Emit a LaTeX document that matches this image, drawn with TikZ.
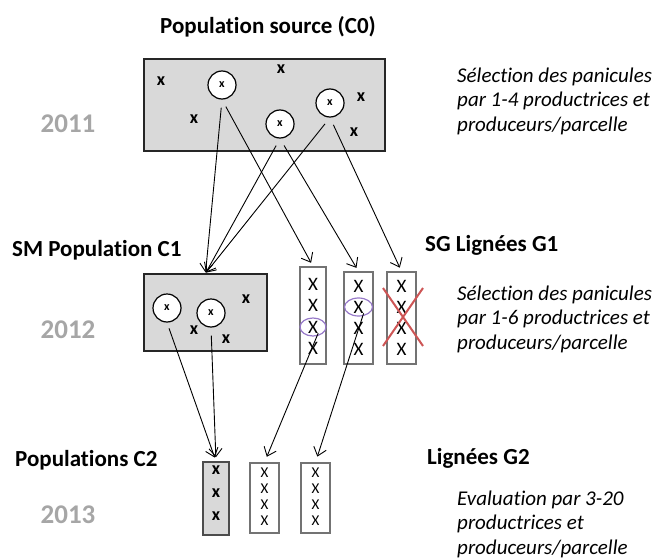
\documentclass[tikz,border=0pt]{standalone}
\usepackage{fontspec}
\setmainfont{Carlito}[Ligatures=NoCommon]
\usepackage{tikz}
\usetikzlibrary{arrows.meta,positioning,fit}
\definecolor{boxgrey}{RGB}{217,217,217}
\definecolor{yeargrey}{RGB}{166,166,166}
\definecolor{selpurple}{RGB}{150,120,200}
\definecolor{rejectred}{RGB}{205,85,85}
\tikzset{
  popbox/.style={draw=black!85, fill=boxgrey, line width=1.2pt, inner sep=0pt},
  linebox/.style={draw=black!55, fill=white, line width=1.4pt, inner sep=0pt},
  plant/.style={circle, draw=black, fill=white, line width=1.2pt, minimum size=28pt, inner sep=0pt, font=\fontsize{12}{12}\selectfont\bfseries},
  bx/.style={inner sep=0pt, font=\fontsize{18}{18}\selectfont\bfseries},
  thinx/.style={inner sep=0pt, font=\fontsize{19}{19}\selectfont},
  smallx/.style={inner sep=0pt, font=\fontsize{15}{15}\selectfont},
  heading/.style={inner sep=0pt, font=\fontsize{23}{26}\selectfont\bfseries},
  year/.style={inner sep=0pt, text=yeargrey, font=\fontsize{27}{30}\selectfont\bfseries},
  note/.style={inner sep=0pt, align=left, font=\fontsize{21}{24.5}\selectfont\itshape},
  sel/.style={draw=selpurple, line width=1.2pt},
  reject/.style={draw=rejectred, line width=2pt},
  flow/.style={draw=black, line width=0.9pt, -{Straight Barb[length=8pt,width=13pt]}}
}
\begin{document}
\begin{tikzpicture}[x=1pt,y=-1pt]
\useasboundingbox (0,0) rectangle (655,559);

% titres et annees
\node[heading] (tC0) at (268,27) {Population source (C0)};
\node[heading, anchor=west] (tC1) at (12,250) {SM Population C1};
\node[heading, anchor=west] (tG1) at (425,245) {SG Lignées G1};
\node[heading, anchor=west] (tC2) at (15,460) {Populations C2};
\node[heading, anchor=west] (tG2) at (427,458) {Lignées G2};
\node[year] (y2011) at (68,124) {2011};
\node[year] (y2012) at (68,330) {2012};
\node[year] (y2013) at (68,515) {2013};

\node[note, anchor=west] (n1) at (457,101) {Sélection des panicules\\par 1-4 productrices et\\produceurs/parcelle};
\node[note, anchor=west] (n2) at (457,319) {Sélection des panicules\\par 1-6 productrices et\\produceurs/parcelle};
\node[note, anchor=west] (n3) at (457,524) {Evaluation par 3-20\\productrices et\\produceurs/parcelle};

% 2011 : population source
\node[popbox, minimum width=241pt, minimum height=92pt] (c0) at (264.5,105) {};
\foreach \px/\py [count=\i] in {161/81, 281/69, 194/119, 361/97, 354/132}
  \node[bx] (c0x\i) at (\px,\py) {x};
\node[plant] (c0a) at (222,85) {x};
\node[plant] (c0b) at (280,124) {x};
\node[plant] (c0c) at (330,103) {x};

% 2012 : SM C1 et lignees G1
\node[popbox, minimum width=123pt, minimum height=77pt] (c1) at (205.5,312.5) {};
\foreach \px/\py [count=\i] in {246/299, 194/330, 226/339}
  \node[bx] (c1x\i) at (\px,\py) {x};
\node[plant] (c1a) at (167,308) {x};
\node[plant] (c1b) at (211,313) {x};

\node[linebox, minimum width=26pt, minimum height=97pt] (g1a) at (313,315.5) {};
\node[linebox, minimum width=29pt, minimum height=92pt] (g1b) at (358.5,318) {};
\node[linebox, minimum width=29pt, minimum height=92pt] (g1c) at (401.5,318) {};
\foreach \py [count=\i] in {284,305.5,327,348.5}
  \node[thinx] (g1a-\i) at (313,\py) {X};
\foreach \py [count=\i] in {286,307,328,349} {
  \node[thinx] (g1b-\i) at (358.5,\py) {X};
  \node[thinx] (g1c-\i) at (401.5,\py) {X};
}
\draw[sel] (g1a-3) ellipse [x radius=13pt, y radius=9pt];
\draw[sel] (g1b-2) ellipse [x radius=14pt, y radius=9pt];
\draw[reject] (383,288) -- (423,346) (423,288) -- (383,346);

% 2013 : C2 et lignees G2
\node[popbox, draw=black!70, line width=1.4pt, minimum width=26pt, minimum height=73pt] (c2) at (216,498.5) {};
\foreach \py [count=\i] in {470,493,516}
  \node[bx] (c2x\i) at (216,\py) {x};
\node[linebox, minimum width=29pt, minimum height=70pt] (g2a) at (264.5,498) {};
\node[linebox, minimum width=29pt, minimum height=70pt] (g2b) at (315.5,498) {};
\foreach \py [count=\i] in {473,489,505,521} {
  \node[smallx] (g2a-\i) at (264.5,\py) {X};
  \node[smallx] (g2b-\i) at (315.5,\py) {X};
}

% fleches
\draw[flow, shorten <=8pt, shorten >=1pt] (c0a.south) -- (c1.north);
\draw[flow, shorten <=8pt, shorten >=1pt] (c0b.south) -- (c1.north);
\draw[flow, shorten <=8pt, shorten >=1pt] (c0c.south) -- (c1.north);
\draw[flow, shorten <=8pt, shorten >=4pt] (c0a.south) -- (g1a.north);
\draw[flow, shorten <=8pt, shorten >=4pt] (c0b.south) -- (g1b.north);
\draw[flow, shorten <=8pt, shorten >=4pt] (c0c.south) -- (g1c.north);
\draw[flow, shorten <=6pt, shorten >=4pt] (c1a.south) -- (c2.north);
\draw[flow, shorten <=8pt, shorten >=4pt] (c1b.south) -- (c2.north);
\draw[flow, shorten >=6pt] (g1a-3.south east) -- (g2a.north);
\draw[flow, shorten >=6pt] (g1b-2.south east) -- (g2b.north);
\end{tikzpicture}
\end{document}
